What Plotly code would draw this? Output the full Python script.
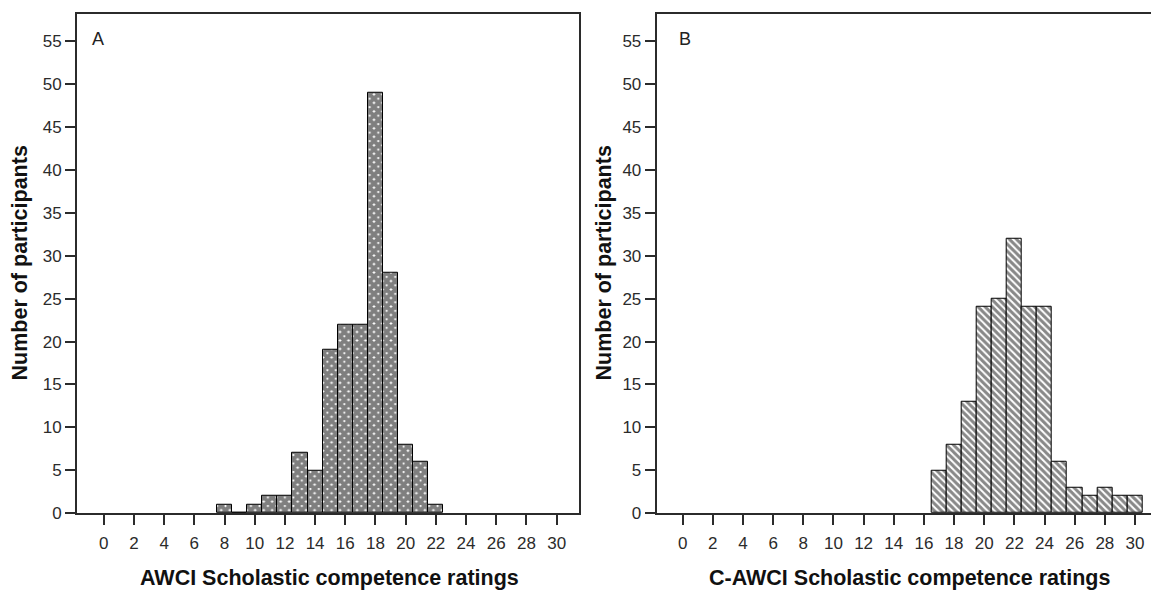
import plotly.graph_objects as go

# Panel A: AWCI Scholastic competence ratings
a_scores = [8, 9, 10, 11, 12, 13, 14, 15, 16, 17, 18, 19, 20, 21, 22]
a_counts = [1, 0, 1, 2, 2, 7, 5, 19, 22, 22, 49, 28, 8, 6, 1]

# Panel B: C-AWCI Scholastic competence ratings
b_scores = [17, 18, 19, 20, 21, 22, 23, 24, 25, 26, 27, 28, 29, 30]
b_counts = [5, 8, 13, 24, 25, 32, 24, 24, 6, 3, 2, 3, 2, 2]

x_ticks = list(range(0, 31, 2))
y_ticks = list(range(0, 56, 5))

W, H = 1151, 593
FONT = "Liberation Sans, Arial, sans-serif"
AXC = "#2b2b2b"

fig = go.Figure()
fig.add_trace(go.Bar(
    x=a_scores, y=a_counts, width=1, xaxis="x", yaxis="y",
    marker=dict(color="white", line=dict(color="black", width=1),
                pattern=dict(shape="x", fgcolor="#000000", bgcolor="white",
                             size=6, solidity=0.9)),
    showlegend=False,
))
fig.add_trace(go.Bar(
    x=b_scores, y=b_counts, width=1, xaxis="x2", yaxis="y2",
    marker=dict(color="white", line=dict(color="black", width=1),
                pattern=dict(shape="\\", fgcolor="#111111", bgcolor="white",
                             size=5, solidity=0.6)),
    showlegend=False,
))

ydom = [(593 - 522) / 593, (593 - 14) / 593]
common_x = dict(tickvals=x_ticks, ticktext=[str(v) for v in x_ticks],
                ticks="outside", ticklen=10, tickwidth=2, tickcolor=AXC,
                showline=True, linewidth=2, linecolor=AXC, showgrid=False,
                zeroline=False, ticklabelstandoff=3,
                tickfont=dict(family=FONT, size=17, color=AXC))
common_y = dict(tickvals=y_ticks, ticktext=[str(v) for v in y_ticks],
                ticks="outside", ticklen=10, tickwidth=2, tickcolor=AXC,
                showline=True, linewidth=2, linecolor=AXC, showgrid=False,
                zeroline=False, range=[0, 58.2], domain=ydom,
                tickfont=dict(family=FONT, size=17, color=AXC))

TITLE_FONT = dict(family=FONT, size=21.5, color="#111111", weight="bold")

fig.update_layout(
    width=W, height=H,
    margin=dict(l=0, r=0, t=0, b=0),
    paper_bgcolor="white", plot_bgcolor="white",
    bargap=0,
    xaxis=dict(common_x, domain=[77 / W, 579 / W], range=[-1.77, 31.48],
               mirror=True, anchor="y"),
    yaxis=dict(common_y, mirror=True, anchor="x"),
    xaxis2=dict(common_x, domain=[656.7 / W, 1.0], range=[-1.72, 31.06],
                mirror=True, anchor="y2"),
    yaxis2=dict(common_y, mirror=False, anchor="x2"),
    annotations=[
        dict(text="AWCI Scholastic competence ratings", x=329 / W, y=(593 - 588) / 593,
             xref="paper", yref="paper", showarrow=False, xanchor="center", yanchor="middle",
             font=TITLE_FONT),
        dict(text="C-AWCI Scholastic competence ratings", x=909 / W, y=(593 - 588) / 593,
             xref="paper", yref="paper", showarrow=False, xanchor="center", yanchor="middle",
             font=TITLE_FONT),
        dict(text="Number of participants", x=20 / W, y=(593 - 268) / 593, textangle=-90,
             xref="paper", yref="paper", showarrow=False, xanchor="center", yanchor="middle",
             font=TITLE_FONT),
        dict(text="Number of participants", x=604 / W, y=(593 - 268) / 593, textangle=-90,
             xref="paper", yref="paper", showarrow=False, xanchor="center", yanchor="middle",
             font=TITLE_FONT),
        dict(text="A", x=98 / W, y=(593 - 40) / 593,
             xref="paper", yref="paper", showarrow=False, xanchor="center", yanchor="middle",
             font=dict(family=FONT, size=18, color="#222222")),
        dict(text="B", x=685 / W, y=(593 - 40) / 593,
             xref="paper", yref="paper", showarrow=False, xanchor="center", yanchor="middle",
             font=dict(family=FONT, size=18, color="#222222")),
    ],
)

fig.write_html("out.html")
